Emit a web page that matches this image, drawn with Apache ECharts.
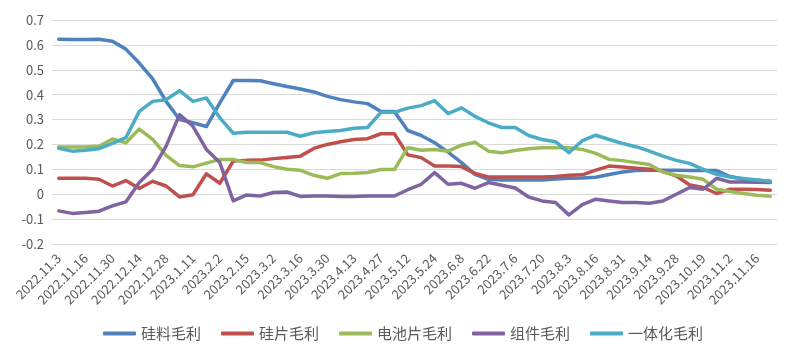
<!DOCTYPE html>
<html>
<head>
<meta charset="utf-8">
<script src="https://cdn.jsdelivr.net/npm/echarts@6.0.0/dist/echarts.min.js"></script>
<style>
  html, body { margin: 0; padding: 0; background: #fff; }
  #chart { width: 806px; height: 352px; }
</style>
</head>
<body>
<div id="chart"></div>
<script>
// weekly dates, only every other one is labelled on the axis
const categories = [
  '2022.11.3', '2022.11.10', '2022.11.16', '2022.11.23', '2022.11.30', '2022.12.7',
  '2022.12.14', '2022.12.21', '2022.12.28', '2023.1.4', '2023.1.11', '2023.1.18',
  '2023.2.2', '2023.2.8', '2023.2.15', '2023.2.22', '2023.3.2', '2023.3.8',
  '2023.3.16', '2023.3.22', '2023.3.30', '2023.4.6', '2023.4.13', '2023.4.20',
  '2023.4.27', '2023.5.4', '2023.5.12', '2023.5.17', '2023.5.24', '2023.5.31',
  '2023.6.8', '2023.6.14', '2023.6.22', '2023.6.29', '2023.7.6', '2023.7.12',
  '2023.7.20', '2023.7.27', '2023.8.3', '2023.8.9', '2023.8.16', '2023.8.23',
  '2023.8.31', '2023.9.6', '2023.9.14', '2023.9.20', '2023.9.28', '2023.10.12',
  '2023.10.19', '2023.10.26', '2023.11.2', '2023.11.9', '2023.11.16', '2023.11.23',
]

const polysilicon = [
  0.623, 0.622, 0.622, 0.623, 0.615, 0.583, 0.527, 0.463, 0.373, 0.300,
  0.287, 0.272, 0.367, 0.457, 0.457, 0.456, 0.444, 0.433, 0.423, 0.411,
  0.393, 0.380, 0.371, 0.364, 0.332, 0.332, 0.256, 0.236, 0.207, 0.169,
  0.127, 0.080, 0.060, 0.057, 0.057, 0.057, 0.057, 0.061, 0.064, 0.065,
  0.068, 0.079, 0.089, 0.095, 0.096, 0.096, 0.096, 0.095, 0.095, 0.095,
  0.071, 0.060, 0.056, 0.052,
]
const wafer = [
  0.064, 0.064, 0.064, 0.060, 0.033, 0.055, 0.023, 0.052, 0.033, -0.011,
  -0.002, 0.082, 0.044, 0.133, 0.136, 0.137, 0.143, 0.148, 0.153, 0.184,
  0.200, 0.211, 0.220, 0.223, 0.243, 0.243, 0.158, 0.147, 0.113, 0.113,
  0.111, 0.084, 0.069, 0.069, 0.069, 0.069, 0.069, 0.071, 0.076, 0.078,
  0.097, 0.113, 0.109, 0.104, 0.100, 0.093, 0.073, 0.037, 0.027, 0.003,
  0.020, 0.020, 0.019, 0.016,
]
const cell = [
  0.190, 0.190, 0.190, 0.193, 0.222, 0.207, 0.262, 0.220, 0.156, 0.115,
  0.110, 0.125, 0.140, 0.140, 0.127, 0.127, 0.111, 0.100, 0.096, 0.076,
  0.064, 0.083, 0.084, 0.087, 0.099, 0.099, 0.187, 0.177, 0.180, 0.173,
  0.197, 0.209, 0.173, 0.167, 0.176, 0.183, 0.187, 0.187, 0.187, 0.180,
  0.164, 0.140, 0.135, 0.127, 0.119, 0.089, 0.076, 0.069, 0.060, 0.020,
  0.011, 0.003, -0.004, -0.008,
]
const module_ = [
  -0.067, -0.077, -0.073, -0.068, -0.047, -0.031, 0.047, 0.100, 0.193, 0.320,
  0.273, 0.180, 0.127, -0.027, -0.003, -0.007, 0.007, 0.009, -0.009, -0.007,
  -0.007, -0.009, -0.009, -0.007, -0.007, -0.007, 0.018, 0.040, 0.087, 0.040,
  0.044, 0.024, 0.047, 0.036, 0.025, -0.011, -0.027, -0.033, -0.083, -0.042,
  -0.020, -0.027, -0.033, -0.033, -0.036, -0.027, 0.000, 0.027, 0.020, 0.064,
  0.049, 0.049, 0.048, 0.047,
]
const integrated = [
  0.185, 0.173, 0.177, 0.183, 0.204, 0.227, 0.333, 0.373, 0.380, 0.416,
  0.373, 0.387, 0.307, 0.245, 0.249, 0.249, 0.249, 0.249, 0.233, 0.247,
  0.252, 0.256, 0.265, 0.268, 0.329, 0.329, 0.346, 0.356, 0.376, 0.324,
  0.347, 0.313, 0.287, 0.268, 0.268, 0.236, 0.220, 0.211, 0.167, 0.215,
  0.237, 0.220, 0.204, 0.191, 0.173, 0.153, 0.136, 0.124, 0.100, 0.080,
  0.069, 0.063, 0.057, 0.052,
]

const seriesNames = ['硅料毛利', '硅片毛利', '电池片毛利', '组件毛利', '一体化毛利']
const seriesData = [polysilicon, wafer, cell, module_, integrated]
const colors = ['#4f81bd', '#c0504d', '#9bbb59', '#8064a2', '#4bacc6']

const chart = echarts.init(document.getElementById('chart'))
chart.setOption({
  animation: false,
  color: colors,
  textStyle: { fontFamily: '"Noto Sans CJK SC", "Noto Sans", sans-serif' },
  grid: { left: 52, right: 29, top: 20, bottom: 108, containLabel: false, outerBoundsMode: 'none' },
  legend: {
    bottom: 6,
    left: 'center',
    icon: 'roundRect',
    itemWidth: 33,
    itemHeight: 4,
    itemGap: 20,
    textStyle: { color: '#595959', fontSize: 15 },
    data: seriesNames,
  },
  xAxis: {
    type: 'category',
    data: categories,
    axisLine: { show: false },
    axisTick: { show: false },
    axisLabel: { interval: 1, rotate: 45, color: '#595959', fontSize: 13, margin: 12 },
  },
  yAxis: {
    type: 'value',
    min: -0.2,
    max: 0.7,
    interval: 0.1,
    axisLine: { show: false },
    axisTick: { show: false },
    axisLabel: { color: '#595959', fontSize: 13, margin: 8 },
    splitLine: { lineStyle: { color: '#d9d9d9', width: 1 } },
  },
  series: seriesNames.map((name, i) => ({
    name,
    type: 'line',
    data: seriesData[i],
    symbol: 'none',
    lineStyle: { width: 3.5, cap: 'round', join: 'round' },
  })),
})
</script>
</body>
</html>
